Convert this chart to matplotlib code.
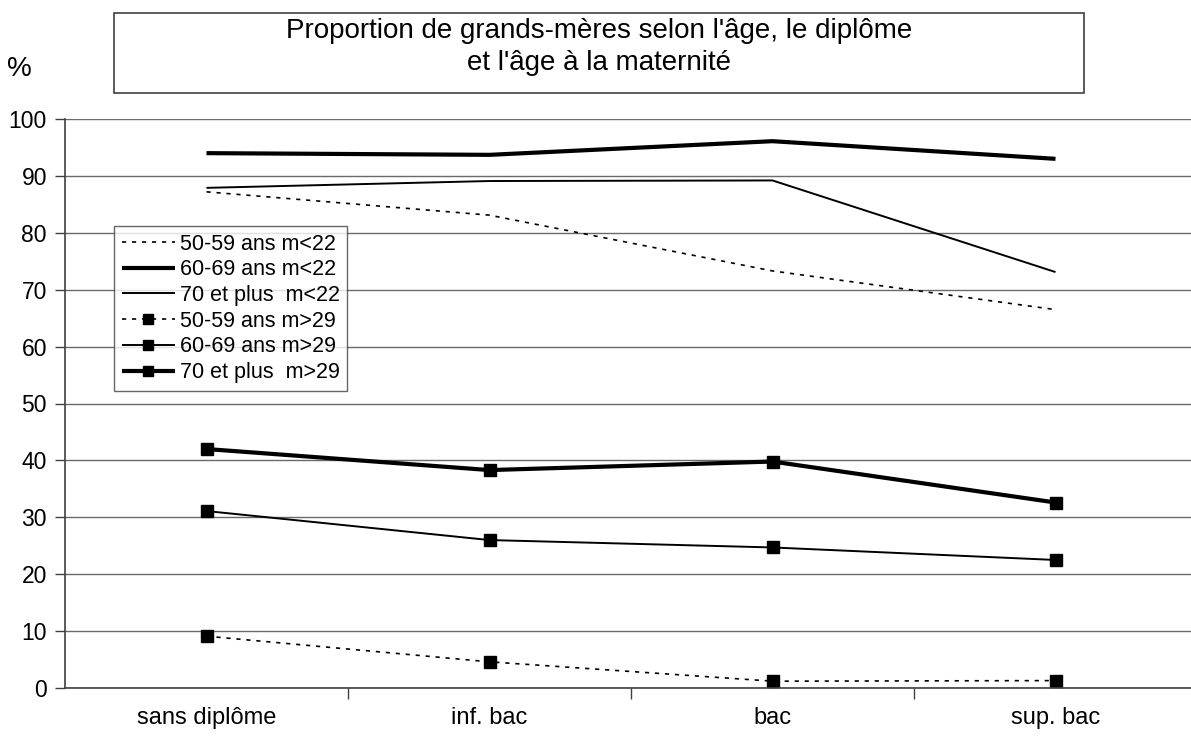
import matplotlib
matplotlib.use("Agg")
import matplotlib.pyplot as plt
from matplotlib.patches import Rectangle

plt.rcParams['font.family'] = ['Liberation Sans', 'DejaVu Sans']

categories = ["sans diplôme", "inf. bac", "bac", "sup. bac"]
series_names = [
    "50-59 ans m<22",
    "60-69 ans m<22",
    "70 et plus  m<22",
    "50-59 ans m>29",
    "60-69 ans m>29",
    "70 et plus  m>29",
]
a50_m22 = [87.2, 83.1, 73.3, 66.5]
a60_m22 = [94.0, 93.7, 96.1, 93.0]
a70_m22 = [87.9, 89.1, 89.2, 73.1]
a50_m29 = [9.1, 4.6, 1.2, 1.3]
a60_m29 = [31.1, 26.0, 24.7, 22.5]
a70_m29 = [42.0, 38.3, 39.8, 32.6]
yticks = [0, 10, 20, 30, 40, 50, 60, 70, 80, 90, 100]

W, H = 1191, 736
fig = plt.figure(figsize=(W / 100, H / 100), dpi=100)
ax = fig.add_axes([65 / W, 48 / H, 1132 / W, 569 / H])

x = list(range(len(categories)))
styles = [
    (a50_m22, dict(color="black", lw=1.2, ls=(0, (2.5, 3.5)))),
    (a60_m22, dict(color="black", lw=3.0, ls="-")),
    (a70_m22, dict(color="black", lw=1.4, ls="-")),
    (a50_m29, dict(color="black", lw=1.2, ls=(0, (2.5, 3.5)), marker="s", ms=9)),
    (a60_m29, dict(color="black", lw=1.4, ls="-", marker="s", ms=9)),
    (a70_m29, dict(color="black", lw=3.0, ls="-", marker="s", ms=9)),
]
for (vals, st), name in zip(styles, series_names):
    ax.plot(x, vals, label=name, solid_capstyle="butt", dash_capstyle="butt", **st)

ax.set_xlim(-0.5, 3.5)
ax.set_ylim(0, 100)
ax.set_yticks(yticks)
ax.set_yticklabels([str(v) for v in yticks])
ax.yaxis.grid(True, color="#6a6a6a", lw=1.0)
ax.set_axisbelow(True)

ax.set_xticks([0.5, 1.5, 2.5])
ax.set_xticklabels([])
ax.tick_params(axis="x", length=8, width=1.0, color="#404040", direction="out")
ax.tick_params(axis="y", length=7, width=1.0, color="#404040", direction="out",
               labelsize=16.5, pad=6)
for i, c in enumerate(categories):
    ax.text(i, -5.3, c, ha="center", va="center", fontsize=17)

for side in ["top", "right"]:
    ax.spines[side].set_visible(False)
ax.spines["left"].set_color("#404040")
ax.spines["bottom"].set_color("#404040")
ax.spines["left"].set_linewidth(1.2)
ax.spines["bottom"].set_linewidth(1.2)

leg = ax.legend(loc="upper left", bbox_to_anchor=(49 / 1132, (688 - 226) / 569),
                fontsize=15.5, frameon=True, fancybox=False, handlelength=2.5,
                handletextpad=0.2, borderpad=0.35, labelspacing=0.22,
                borderaxespad=0, markerscale=0.8)
leg.get_frame().set_edgecolor("#404040")
leg.get_frame().set_linewidth(1.0)

# title box
fig.patches.append(Rectangle((114 / W, (H - 93) / H), (1084 - 114) / W, 80 / H,
                             transform=fig.transFigure, fill=True, facecolor="white",
                             edgecolor="#404040", lw=1.2))
fig.text(599 / W, (H - 47) / H,
         "Proportion de grands-mères selon l'âge, le diplôme\net l'âge à la maternité",
         ha="center", va="center", fontsize=20, linespacing=1.28)
fig.text(19 / W, (H - 69) / H, "%", ha="center", va="center", fontsize=20)

fig.savefig("out.png", dpi=100)
